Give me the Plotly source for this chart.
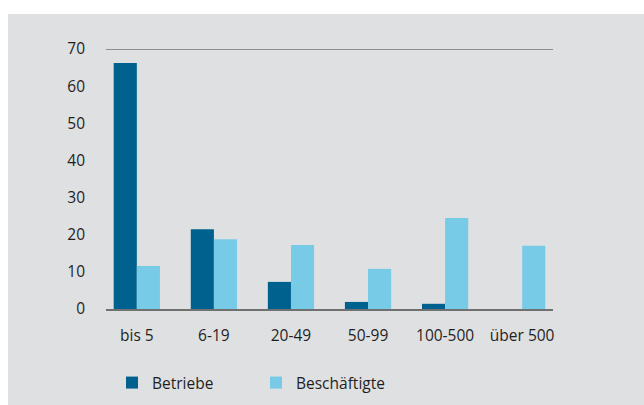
import plotly.graph_objects as go

categories = ["bis 5", "6-19", "20-49", "50-99", "100-500", "über 500"]
betriebe = [66.2, 21.5, 7.3, 1.9, 1.4, 0]
beschaeftigte = [11.6, 18.8, 17.2, 10.8, 24.5, 17.0]
y_ticks = [0, 10, 20, 30, 40, 50, 60, 70]

W, H = 644, 405
L, R, T, B = 106, 91, 49, 96
pw, ph = W - L - R, H - T - B
GREY = "#dfe0e2"
FONT = "Open Sans"
FS = 15.5
TXT = "#1f1f1f"

def px_x(p):
    return (p - L) / pw

def px_y(p):
    return (H - B - p) / ph

fig = go.Figure()
fig.add_trace(go.Bar(x=categories, y=betriebe, name="Betriebe",
                     marker=dict(color="#00618f", line=dict(width=0))))
fig.add_trace(go.Bar(x=categories, y=beschaeftigte, name="Beschäftigte",
                     marker=dict(color="#77cbe6", line=dict(width=0))))

fig.update_layout(
    width=W, height=H,
    margin=dict(l=L, r=R, t=T, b=B, pad=0, autoexpand=False),
    paper_bgcolor="white",
    plot_bgcolor=GREY,
    barmode="group",
    bargap=0.4,
    bargroupgap=0,
    font=dict(family=FONT, size=FS, color=TXT),
    xaxis=dict(
        type="category",
        range=[-0.4, 5.4],
        automargin=False,
        showgrid=False,
        zeroline=False,
        showline=True, linecolor="#707070", linewidth=2,
        ticks="", ticklabelstandoff=11,
        tickfont=dict(size=FS, color=TXT),
    ),
    yaxis=dict(
        range=[0, max(y_ticks)],
        tickvals=y_ticks,
        automargin=False,
        showgrid=False,
        zeroline=False,
        showline=False,
        ticks="", ticklabelstandoff=20,
        tickfont=dict(size=FS, color=TXT),
    ),
    legend=dict(
        orientation="h",
        x=px_x(112), xanchor="left",
        y=px_y(366), yanchor="top",
        bgcolor="rgba(0,0,0,0)",
        font=dict(size=FS, color=TXT),
        entrywidth=99, entrywidthmode="pixels",
        traceorder="normal",
    ),
    shapes=[
        dict(type="rect", xref="paper", yref="paper", layer="below",
             x0=px_x(8), x1=px_x(W + 2), y0=px_y(H + 2), y1=px_y(14),
             fillcolor=GREY, line=dict(width=0)),
        dict(type="line", xref="paper", yref="y", layer="above",
             x0=0, x1=1, y0=max(y_ticks), y1=max(y_ticks),
             line=dict(color="#3a3a3a", width=1.2)),
    ],
)

fig.write_html(
    "out.html",
    config={"displayModeBar": False},
    post_script="document.body.style.margin='0';document.body.style.overflow='hidden';",
)
